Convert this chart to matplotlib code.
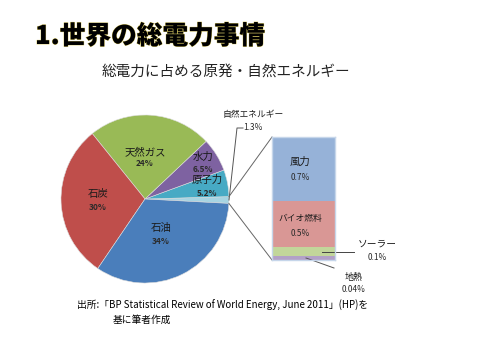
import matplotlib
matplotlib.use("Agg")
import matplotlib.pyplot as plt
import matplotlib.patheffects as pe
import numpy as np

plt.rcParams['font.family'] = ['Noto Sans CJK JP', 'DejaVu Sans']

# ---- data ----
pie_labels = ["自然エネルギー", "原子力", "水力", "天然ガス", "石炭", "石油"]
pie_values = [1.3, 5.2, 6.5, 24, 30, 34]
pie_pct = ["1.3%", "5.2%", "6.5%", "24%", "30%", "34%"]
pie_colors = ["#A7D4E2", "#47AAC4", "#7E62A1", "#99BA56", "#BF4E4B", "#4A7EBB"]

bar_labels = ["地熱", "ソーラー", "バイオ燃料", "風力"]
bar_values = [0.04, 0.1, 0.5, 0.7]
bar_pct = ["0.04%", "0.1%", "0.5%", "0.7%"]
bar_colors = ["#B2A1C7", "#C2D69A", "#D99795", "#96B2D8"]

title = "1.世界の総電力事情"
subtitle = "総電力に占める原発・自然エネルギー"
source1 = "出所:「BP Statistical Review of World Energy, June 2011」(HP)を"
source2 = "基に筆者作成"

W, H = 480, 360
fig = plt.figure(figsize=(4.8, 3.6), dpi=100)
ax = fig.add_axes([0, 0, 1, 1])

cx, cy, R = 145, H - 199, 84
wedges, _ = ax.pie(pie_values, colors=pie_colors, startangle=-3, counterclock=True,
                   center=(cx, cy), radius=R, frame=True,
                   wedgeprops=dict(linewidth=0.4, edgecolor="#dddddd"))
ax.set_xlim(0, W)
ax.set_ylim(0, H)
ax.set_aspect('equal')
ax.axis('off')

dark = "#1a1a1a"
pdark = "#2a2a2a"
# pie labels (top-down pixel coords)
lab_pos = {"天然ガス": (145, 152, 164), "石炭": (98, 194, 208), "石油": (161, 228, 242),
           "水力": (203, 157, 170), "原子力": (207, 180, 193)}
for name, pct in zip(pie_labels, pie_pct):
    if name in lab_pos:
        x, y1, y2 = lab_pos[name]
        ax.text(x, H - y1, name, ha='center', va='center', fontsize=7.5, color=dark)
        ax.text(x, H - y2, pct, ha='center', va='center', fontsize=6, color=pdark,
                fontweight='bold')

# natural energy label + leader
ax.text(253, H - 114, pie_labels[0], ha='center', va='center', fontsize=6.3, color=dark)
ax.text(253, H - 127, pie_pct[0], ha='center', va='center', fontsize=6, color=pdark)
w0 = wedges[0]
mid = np.deg2rad((w0.theta1 + w0.theta2) / 2)
ax.plot([cx + R * np.cos(mid), 237, 243], [cy + R * np.sin(mid), H - 128, H - 128],
        color="#555555", lw=0.7)

# connector lines from slice edges to bar
bx0, bx1, by_top, by_bot = 272, 335, 137, 260
t1 = np.deg2rad(w0.theta2)
t0 = np.deg2rad(w0.theta1)
ax.plot([cx + R * np.cos(t1), bx0], [cy + R * np.sin(t1), H - by_top], color="#666666", lw=0.7)
ax.plot([cx + R * np.cos(t0), bx0], [cy + R * np.sin(t0), H - by_bot], color="#666666", lw=0.7)

# bar of natural energy breakdown
bax = fig.add_axes([bx0 / W, (H - by_bot) / H, (bx1 - bx0) / W, (by_bot - by_top) / H])
bottom = 0
for v, c in zip(bar_values, bar_colors):
    bax.bar(0, v, bottom=bottom, width=1, color=c, edgecolor='none')
    bottom += v
bax.set_xlim(-0.5, 0.5)
bax.set_ylim(0, sum(bar_values))
bax.set_xticks([])
bax.set_yticks([])
for s in bax.spines.values():
    s.set_color("#C6D6EA")
    s.set_linewidth(1.0)
bax.patch.set_alpha(0)

# bar labels (drawn in bar axes so they sit above the bars)
T = ax.transData
bax.text(300, H - 162, bar_labels[3], ha='center', va='center', fontsize=7.5, color=dark, transform=T)
bax.text(300, H - 178, bar_pct[3], ha='center', va='center', fontsize=6, color=pdark, transform=T)
bax.text(300, H - 219, bar_labels[2], ha='center', va='center', fontsize=6.3, color=dark, transform=T)
bax.text(300, H - 234, bar_pct[2], ha='center', va='center', fontsize=6, color=pdark, transform=T)
bax.plot([322, 354], [H - 252, H - 252], color="#444444", lw=0.7, transform=T, clip_on=False)
bax.plot([306, 334], [H - 258, H - 268], color="#555555", lw=0.7, transform=T, clip_on=False)
ax.text(377, H - 244, bar_labels[1], ha='center', va='center', fontsize=7, color=dark)
ax.text(377, H - 257, bar_pct[1], ha='center', va='center', fontsize=6, color=pdark)
ax.text(354, H - 277, bar_labels[0], ha='center', va='center', fontsize=6.5, color=dark)
ax.text(354, H - 290, bar_pct[0], ha='center', va='center', fontsize=6, color=pdark)

# title and subtitle
ax.text(35, H - 36, title, ha='left', va='center', fontsize=18.5, fontweight='heavy',
        color='black',
        path_effects=[pe.withStroke(linewidth=0.6, foreground="#D8C860")])
ax.text(226, H - 72, subtitle, ha='center', va='center', fontsize=10.5, color="#222222")

# source
ax.text(77, H - 305, source1, ha='left', va='center', fontsize=7, color='black')
ax.text(113, H - 320, source2, ha='left', va='center', fontsize=7, color='black')

fig.savefig("out.png", dpi=100)
